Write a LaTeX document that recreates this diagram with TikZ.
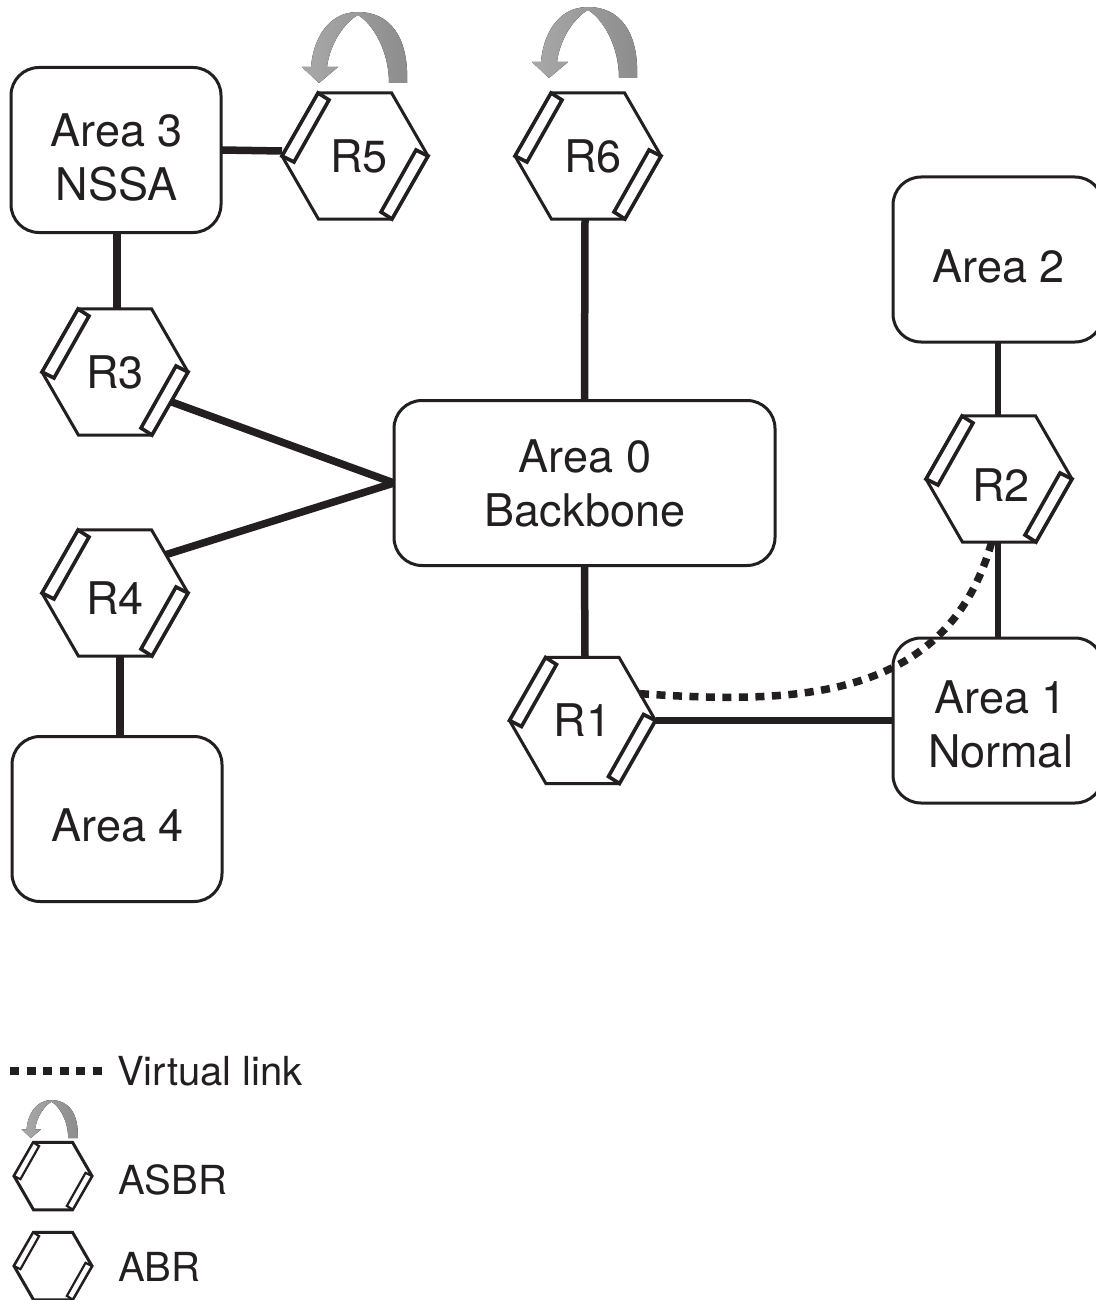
\documentclass[tikz,border=0pt]{standalone}
\usepackage{fontspec}
\setmainfont{TeX Gyre Heros}
\usetikzlibrary{shapes.geometric,shadings,calc}
\definecolor{ink}{HTML}{231F20}
\tikzset{
  x=1pt,y=-1pt,
  areabox/.style={draw=ink,line width=3pt,rounded corners=28pt,minimum width=210pt,minimum height=165pt,
    inner sep=0pt,outer sep=0pt},
  hexshape/.style={draw=ink,line width=3pt,regular polygon,regular polygon sides=6,
    inner sep=0pt,outer sep=0pt,line join=miter},
  stripe/.style={draw=ink,line width=3pt,fill=white,line join=miter},
  hexlabel/.style={text=ink,inner sep=0pt,align=center,font=\fontsize{45}{53.5}\selectfont},
  legendtext/.style={text=ink,inner sep=0pt,anchor=west,font=\fontsize{40}{48}\selectfont},
  link/.style={draw=ink,line width=7.5pt},
  thinlink/.style={draw=ink,line width=5.5pt},
  virtual/.style={draw=ink,line width=7.5pt,dash pattern=on 9pt off 7.5pt},
  swoosh/.style={left color=gray!68,right color=gray!110!black,draw=none}
}
\newcommand{\routerhex}[5]{%
  \node[hexshape,minimum size=#4*146pt] (#1) at (#2,#3) {};
  \begin{scope}[shift={(#1.center)},scale=#4]
    \draw[stripe,line width=#4*3pt+0.6pt] (-73,0) -- (-37,-63) -- (-26,-56) -- (-61,6) -- cycle;
    \draw[stripe,line width=#4*3pt+0.6pt] (73,0) -- (37,63) -- (26,56) -- (61,-6) -- cycle;
  \end{scope}
  #5}
\newcommand{\turnarrow}[4]{%
  \begin{scope}[shift={(#1.center)},shift={(#2,#3)},scale=#4]
    \fill[swoosh] (52,-73) .. controls (54,-120) and (34,-144) .. (3,-144)
      .. controls (-28,-144) and (-42,-115) .. (-44,-89) -- (-53,-89) -- (-36,-73) -- (-17,-89) -- (-28,-89)
      .. controls (-25,-113) and (-10,-134) .. (3,-141)
      .. controls (18,-132) and (34,-105) .. (34,-73) -- cycle;
  \end{scope}}
\begin{document}
\begin{tikzpicture}
\fill[white] (0,0) rectangle (1095,1300);
\useasboundingbox (0,0) rectangle (1095,1300);
\node[areabox] (a3) at (116,150) {};
\node[hexlabel] (a3t) at (116.5,157.5) {Area 3\\NSSA};
\node[areabox] (a2) at (998,259.5) {};
\node[hexlabel] (a2t) at (998.5,266) {Area 2};
\node[areabox,minimum width=381pt] (a0) at (584.5,483) {};
\node[hexlabel] (a0t) at (585,483.5) {Area 0\\Backbone};
\node[areabox] (a1) at (998,720.5) {};
\node[hexlabel] (a1t) at (1000.5,724.5) {Area 1\\Normal};
\node[areabox] (a4) at (117,819) {};
\node[hexlabel] (a4t) at (117.5,825) {Area 4};

\routerhex{r5}{355}{156}{1}{\node[hexlabel] (r5t) at ([xshift=4pt]r5.center) {R5};}
\routerhex{r6}{588}{156}{1}{\node[hexlabel] (r6t) at ([xshift=5pt]r6.center) {R6};}
\routerhex{r3}{115}{372}{1}{\node[hexlabel] (r3t) at (r3.center) {R3};}
\routerhex{r4}{115}{593}{1}{\node[hexlabel] (r4t) at ([yshift=-5pt]r4.center) {R4};}
\routerhex{r2}{999}{479}{1}{\node[hexlabel] (r2t) at ([xshift=2pt,yshift=-6pt]r2.center) {R2};}
\routerhex{r1}{582.5}{720.5}{1}{\node[hexlabel] (r1t) at (r1.center) {R1};}
\turnarrow{r5}{0}{0}{1}
\turnarrow{r6}{-3}{-5}{1}

\draw[link] (a3.east) -- ([yshift=5pt]r5.west);
\draw[link] ([xshift=1pt]a3.south) -- ([xshift=2pt]r3.north);
\draw[link] (r3.-28) -- (a0.west);
\draw[link] (r4.37) -- (a0.west);
\draw[link] ([xshift=5pt]r4.south) -- ([xshift=3pt]a4.north);
\draw[link] ([xshift=-3pt]r6.south) -- (a0.north);
\draw[link] (a0.south) -- ([xshift=2.5pt]r1.north);
\draw[thinlink] (a2.south) -- ([xshift=-1pt]r2.north);
\draw[thinlink] ([xshift=-1pt]r2.south) -- (a1.north);
\draw[link] (r1.east) -- (a1.west);
\draw[virtual] (r1.25) .. controls +(160,11) and (950,700) .. ([xshift=-6pt,yshift=5pt]r2.south);

\coordinate (vl1) at (10,1071);
\coordinate (vl2) at (102,1071);
\draw[virtual] (vl1) -- (vl2);
\node[legendtext] (vt) at (117,1071) {Virtual link};
\routerhex{asbr}{53}{1176}{0.534}{\node[legendtext] (asbrt) at (118,1180) {ASBR};}
\turnarrow{asbr}{-3}{1}{0.534}
\routerhex{abr}{53}{1266}{0.534}{\node[legendtext] (abrt) at (118,1267) {ABR};}
\end{tikzpicture}
\end{document}
